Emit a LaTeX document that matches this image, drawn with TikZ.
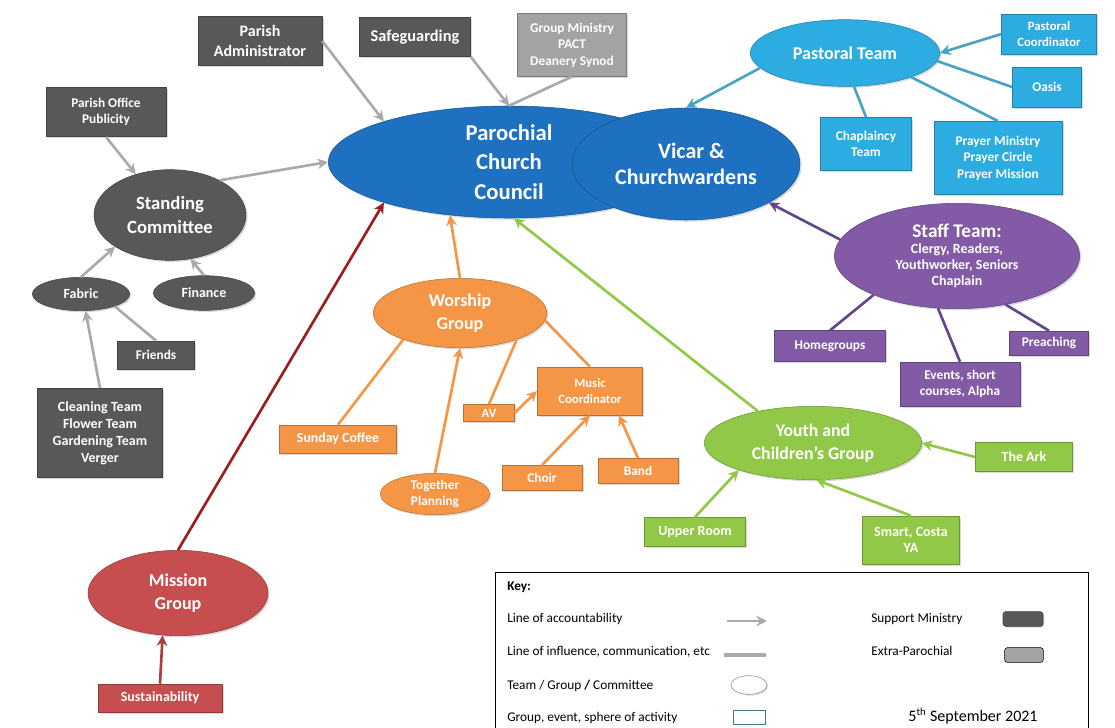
\documentclass[tikz,border=0pt]{standalone}
\usepackage{fontspec}
\setmainfont{Carlito}
\usetikzlibrary{shapes.geometric, arrows.meta, shadows}
\definecolor{pccblue}{RGB}{30,112,192}
\definecolor{lightblue}{RGB}{45,172,225}
\definecolor{teal}{RGB}{70,165,195}
\definecolor{staffpurple}{RGB}{130,90,165}
\definecolor{darkpurple}{RGB}{100,70,140}
\definecolor{youthgreen}{RGB}{146,200,72}
\definecolor{worshiporange}{RGB}{245,150,70}
\definecolor{missionred}{RGB}{198,78,78}
\definecolor{darkred}{RGB}{155,30,30}
\definecolor{darkbox}{RGB}{88,88,88}
\definecolor{lightbox}{RGB}{163,163,163}
\definecolor{linegrey}{RGB}{170,170,170}

\begin{document}
\begin{tikzpicture}[
    x=0.75pt, y=-0.75pt,
    >={Stealth[length=8pt, width=8pt]},
    activity/.style={draw=#1!75!black, fill=#1, rectangle, text=white, align=center, inner sep=1pt,
        font=\bfseries\fontsize{10}{12.4}\selectfont, drop shadow={opacity=0.3, shadow xshift=1.2pt, shadow yshift=-1.2pt}},
    team/.style={draw=#1!75!black, fill=#1, ellipse, text=white, align=center, inner sep=0pt,
        font=\bfseries\fontsize{13.5}{17.5}\selectfont, drop shadow={opacity=0.3, shadow xshift=1.2pt, shadow yshift=-1.2pt}},
    link/.style={line width=2pt, draw=#1},
    keytext/.style={anchor=west, font=\fontsize{10}{12}\selectfont, inner sep=0pt}
]
    \useasboundingbox (0,0) rectangle (1115,728);

    \node[team=pccblue, minimum width=271pt, minimum height=84pt, font=\bfseries\fontsize{17}{22}\selectfont] (pcc) at (509,162) {Parochial\\Church\\Council};
    \node[team=pccblue, minimum width=171pt, minimum height=84pt, font=\bfseries\fontsize{16.5}{20}\selectfont] (vicar) at (686,164) {\hspace*{8pt}Vicar \&\\Churchwardens};

    \node[activity=darkbox, minimum width=93pt, minimum height=37pt, font=\bfseries\fontsize{12}{15.5}\selectfont] (padmin) at (260,41) {Parish\\Administrator};
    \node[activity=darkbox, minimum width=83pt, minimum height=29pt, font=\bfseries\fontsize{12.3}{15}\selectfont] (safe) at (415,37) {Safeguarding};
    \node[activity=lightbox, minimum width=82pt, minimum height=47pt, font=\bfseries\fontsize{10}{12.4}\selectfont] (gmin) at (572,45) {Group Ministry\\PACT\\Deanery Synod};
    \node[activity=darkbox, minimum width=90pt, minimum height=37pt] (poffice) at (106,112) {Parish Office\\Publicity};
    \node[team=darkbox, minimum width=114pt, minimum height=68pt, font=\bfseries\fontsize{14}{18}\selectfont] (stand) at (170,215) {Standing\\Committee};
    \node[team=darkbox, minimum width=73pt, minimum height=25pt, font=\bfseries\fontsize{10.5}{12}\selectfont] (fabric) at (81,294) {Fabric};
    \node[team=darkbox, minimum width=76pt, minimum height=26pt, font=\bfseries\fontsize{10.5}{12}\selectfont] (finance) at (204,293) {Finance};
    \node[activity=darkbox, minimum width=58pt, minimum height=21pt] (friends) at (156,355) {Friends};
    \node[activity=darkbox, minimum width=94pt, minimum height=67pt, font=\bfseries\fontsize{10.5}{12.75}\selectfont] (clean) at (100,433) {Cleaning Team\\Flower Team\\Gardening Team\\Verger};

    \node[team=missionred, minimum width=135pt, minimum height=64pt] (mission) at (178,593) {Mission\\Group};
    \node[activity=missionred, minimum width=93pt, minimum height=21pt, font=\bfseries\fontsize{10.5}{12}\selectfont] (sustain) at (160,698) {Sustainability};

    \node[team=lightblue, minimum width=142pt, minimum height=50pt] (pastoral) at (845,53) {Pastoral Team};
    \node[activity=lightblue, minimum width=71pt, minimum height=30pt, font=\bfseries\fontsize{9.5}{12}\selectfont] (pcoord) at (1049,34) {Pastoral\\Coordinator};
    \node[activity=lightblue, minimum width=52pt, minimum height=30pt] (oasis) at (1047,87) {Oasis};
    \node[activity=lightblue, minimum width=68pt, minimum height=40pt] (chap) at (866,144) {Chaplaincy\\Team};
    \node[activity=lightblue, minimum width=96pt, minimum height=55pt, font=\bfseries\fontsize{10}{12.4}\selectfont] (prayer) at (998,158) {Prayer Ministry\\Prayer Circle\\Prayer Mission};

    \node[team=staffpurple, minimum width=184pt, minimum height=79pt, font=\bfseries\fontsize{10.5}{12}\selectfont] (staff) at (957,256) {{\fontsize{14.5}{17}\selectfont Staff Team:}\\Clergy, Readers,\\Youthworker, Seniors\\Chaplain};
    \node[activity=staffpurple, minimum width=83pt, minimum height=23pt] (homeg) at (830,346) {Homegroups};
    \node[activity=staffpurple, minimum width=90pt, minimum height=33pt] (events) at (960,384) {Events, short\\courses, Alpha};
    \node[activity=staffpurple, minimum width=59pt, minimum height=18pt] (preach) at (1049,343) {Preaching};

    \node[team=youthgreen, minimum width=163pt, minimum height=55pt, font=\bfseries\fontsize{13.3}{17}\selectfont] (youth) at (813,443) {Youth and\\Children’s Group};
    \node[activity=youthgreen, minimum width=73pt, minimum height=22pt, font=\bfseries\fontsize{10.5}{12}\selectfont] (ark) at (1024,457) {The Ark};
    \node[activity=youthgreen, minimum width=76pt, minimum height=22pt, font=\bfseries\fontsize{10.5}{12}\selectfont] (upper) at (695,532) {Upper Room};
    \node[activity=youthgreen, minimum width=73pt, minimum height=36pt, font=\bfseries\fontsize{10.5}{12.5}\selectfont] (smart) at (911,540) {Smart, Costa\\YA};

    \node[team=worshiporange, minimum width=130pt, minimum height=52pt] (worship) at (460,313) {Worship\\Group};
    \node[activity=worshiporange, minimum width=88pt, minimum height=21pt, font=\bfseries\fontsize{10.4}{12}\selectfont] (coffee) at (338,439) {Sunday Coffee};
    \node[team=worshiporange, minimum width=82pt, minimum height=31pt, font=\bfseries\fontsize{10}{12.5}\selectfont] (together) at (435,494) {Together\\Planning};
    \node[activity=worshiporange, minimum width=38pt, minimum height=13pt, font=\bfseries\fontsize{9.5}{11}\selectfont] (av) at (489,413) {AV};
    \node[activity=worshiporange, minimum width=79pt, minimum height=36pt, font=\bfseries\fontsize{9.5}{12}\selectfont] (music) at (590,391) {Music\\Coordinator};
    \node[activity=worshiporange, minimum width=60pt, minimum height=19pt] (choir) at (542,478) {Choir};
    \node[activity=worshiporange, minimum width=60pt, minimum height=19pt] (band) at (638,471) {Band};

    \draw[->, link=linegrey] (padmin.east) -- (pcc.162);
    \draw[->, link=linegrey] (safe.south east) -- (pcc.north);
    \draw[link=linegrey] (gmin.south) -- (pcc.north);
    \draw[->, link=linegrey] (poffice.south) -- (stand.130);
    \draw[->, link=linegrey] (stand.35) -- (pcc.west);
    \draw[->, link=linegrey] (fabric.north) -- (stand.210);
    \draw[->, link=linegrey] (finance.north) -- (stand.295);
    \draw[link=linegrey] (friends.north) -- (fabric.340);
    \draw[->, link=linegrey] (clean.north) -- (fabric.285);

    \draw[->, link=darkred] (mission.north) -- (pcc.198);
    \draw[->, link=missionred!85!black] (sustain.north) -- (mission.250);

    \draw[->, link=teal] (pastoral.190) -- (vicar.north);
    \draw[->, link=teal] (pcoord.west) -- (pastoral.east);
    \draw[link=teal] (oasis.west) -- (pastoral.355);
    \draw[link=teal] (chap.north) -- (pastoral.285);
    \draw[link=teal] (prayer.north) -- (pastoral.340);

    \draw[->, link=darkpurple] (staff.172) -- (vicar.335);
    \draw[link=darkpurple] (homeg.north) -- (staff.205);
    \draw[link=darkpurple] (events.north) -- (staff.250);
    \draw[link=darkpurple] (preach.north) -- (staff.315);

    \draw[->, link=youthgreen] (youth.150) -- (pcc.275);
    \draw[->, link=youthgreen] (ark.west) -- (youth.east);
    \draw[->, link=youthgreen] (upper.north) -- (youth.200);
    \draw[->, link=youthgreen] (smart.north) -- (youth.275);

    \draw[->, link=worshiporange] (worship.north) -- (pcc.222);
    \draw[link=worshiporange] (coffee.north) -- (worship.205);
    \draw[->, link=worshiporange] (together.north) -- (worship.south);
    \draw[link=worshiporange] (av.north) -- (worship.335);
    \draw[->, link=worshiporange] (av.east) -- (music.west);
    \draw[link=worshiporange] (music.north) -- (worship.355);
    \draw[->, link=worshiporange] (choir.north) -- (music.south);
    \draw[->, link=worshiporange] (band.north) -- (music.320);

    \draw[line width=0.75pt] (495,735) -- (495,572) -- (1088,572) -- (1088,735);
    \node[keytext, font=\bfseries\fontsize{10}{12}\selectfont] (keyhead) at (507,587) {Key:};
    \node[keytext] (kacc) at (507,619) {Line of accountability};
    \node[keytext] (kinf) at (507,652) {Line of influence, communication, etc};
    \node[keytext] (kteam) at (507,686) {Team / Group \textbf{/} Committee};
    \node[keytext] (kgroup) at (507,718) {Group, event, sphere of activity};
    \node[keytext] (ksupp) at (871,619) {Support Ministry};
    \node[keytext] (kextra) at (871,651) {Extra-Parochial};
    \node[font=\fontsize{12}{14}\selectfont] (kdate) at (973,716) {5\textsuperscript{th} September 2021};

    \coordinate (ka1) at (727,621);
    \coordinate (ka2) at (767,621);
    \coordinate (ki1) at (724,655);
    \coordinate (ki2) at (766,655);
    \draw[->, link=linegrey] (ka1) -- (ka2);
    \draw[link=linegrey, line width=3pt] (ki1) -- (ki2);
    \node[draw=darkbox!70, fill=white, ellipse, minimum width=27pt, minimum height=14pt, inner sep=0pt, drop shadow={opacity=0.25, shadow xshift=1pt, shadow yshift=-1pt}] (kell) at (749,685) {};
    \node[draw=lightblue!40!darkbox, fill=white, rectangle, minimum width=24pt, minimum height=10.5pt, inner sep=0pt] (krect) at (749,717) {};
    \node[draw=darkbox!70!black, fill=darkbox, rectangle, rounded corners=2pt, minimum width=30pt, minimum height=11pt, inner sep=0pt, drop shadow={opacity=0.3, shadow xshift=1pt, shadow yshift=-1pt}] (kdark) at (1023,619) {};
    \node[draw=black, fill=lightbox, rectangle, rounded corners=2pt, minimum width=29pt, minimum height=11pt, inner sep=0pt] (klight) at (1024,655) {};
\end{tikzpicture}
\end{document}
